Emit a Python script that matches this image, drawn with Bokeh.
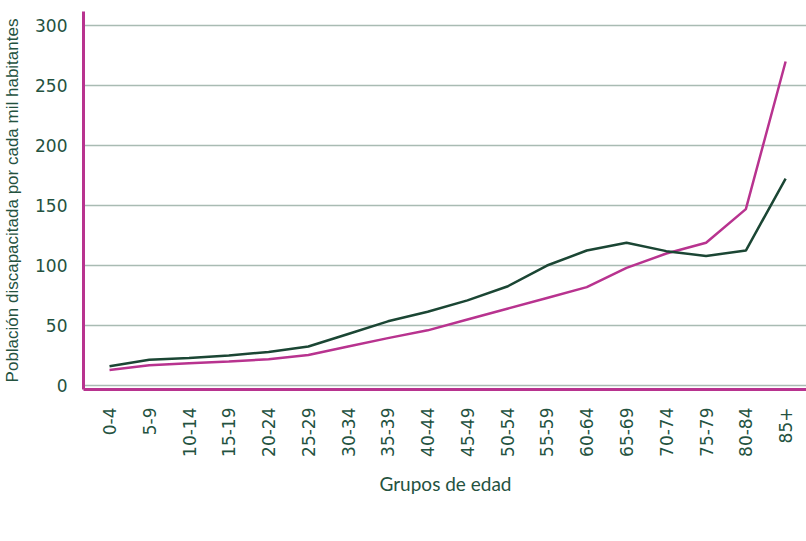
from bokeh.plotting import figure
from bokeh.models import Range1d, FixedTicker, Legend, LegendItem
from bokeh.embed import file_html
from bokeh.resources import INLINE
import math

categories = ["0-4", "5-9", "10-14", "15-19", "20-24", "25-29", "30-34", "35-39",
              "40-44", "45-49", "50-54", "55-59", "60-64", "65-69", "70-74",
              "75-79", "80-84", "85+"]
mujeres = [13, 17, 18.5, 20, 22, 25.5, 32.5, 39.5, 46, 55, 64, 73, 82, 98, 110, 119, 147, 270]
hombres = [16, 21.5, 23, 25, 28, 32.5, 43, 53.5, 61.5, 71, 82.5, 100, 112.5, 119, 112, 108, 112.5, 172.5]
y_ticks = [0, 50, 100, 150, 200, 250, 300]

MAG = "#B8338F"
DG = "#1B4634"
TXT = "#24523F"
TICK_FONT = "DejaVu Sans"
LAB_FONT = "Lato"

xs = list(range(len(categories)))

p = figure(width=798, height=532, frame_width=724, frame_height=378,
           output_backend="svg", toolbar_location=None,
           x_range=Range1d(-0.654, 17.55), y_range=Range1d(-3.3, 311.7),
           min_border_left=74, min_border_right=0, min_border_top=11, min_border_bottom=0)
p.outline_line_color = None
p.background_fill_color = "white"

r_m = p.line(xs, mujeres, line_color=MAG, line_width=2.5)
r_h = p.line(xs, hombres, line_color=DG, line_width=2.5)

p.xgrid.visible = False
p.ygrid.grid_line_color = "#A9BBB3"
p.ygrid.grid_line_width = 1.5
p.ygrid.ticker = FixedTicker(ticks=y_ticks)

ya = p.yaxis[0]
ya.ticker = FixedTicker(ticks=y_ticks)
ya.axis_line_color = MAG
ya.axis_line_width = 3
ya.major_tick_line_color = None
ya.minor_tick_line_color = None
ya.major_label_text_font = TICK_FONT
ya.major_label_text_font_size = "17px"
ya.major_label_text_color = TXT
ya.major_label_standoff = 10
ya.axis_label = "Población discapacitada por cada mil habitantes"
ya.axis_label_text_font = "Liberation Sans"
ya.axis_label_text_font_size = "17px"
ya.axis_label_text_font_style = "normal"
ya.axis_label_text_color = TXT
ya.axis_label_standoff = 10

xa = p.xaxis[0]
xa.ticker = FixedTicker(ticks=xs)
xa.major_label_overrides = {i: c for i, c in enumerate(categories)}
xa.major_label_orientation = math.pi / 2
xa.axis_line_color = MAG
xa.axis_line_width = 3
xa.major_tick_line_color = None
xa.minor_tick_line_color = None
xa.major_label_text_font = TICK_FONT
xa.major_label_text_font_size = "17px"
xa.major_label_text_color = TXT
xa.major_label_standoff = 12
xa.axis_label = "Grupos de edad"
xa.axis_label_text_font = LAB_FONT
xa.axis_label_text_font_size = "19px"
xa.axis_label_text_font_style = "normal"
xa.axis_label_text_color = TXT
xa.axis_label_standoff = 12

legend = Legend(items=[LegendItem(label="Mujeres", renderers=[r_m]),
                       LegendItem(label="Hombres", renderers=[r_h])],
                orientation="horizontal", location=(221, 0),
                label_text_font=LAB_FONT, label_text_font_size="20px", label_text_color=TXT,
                glyph_width=19, glyph_height=20, label_standoff=8, spacing=39,
                border_line_color=None, background_fill_alpha=0,
                margin=0, padding=0)
p.add_layout(legend, "below")

open("out.html", "w").write(file_html(p, INLINE))
